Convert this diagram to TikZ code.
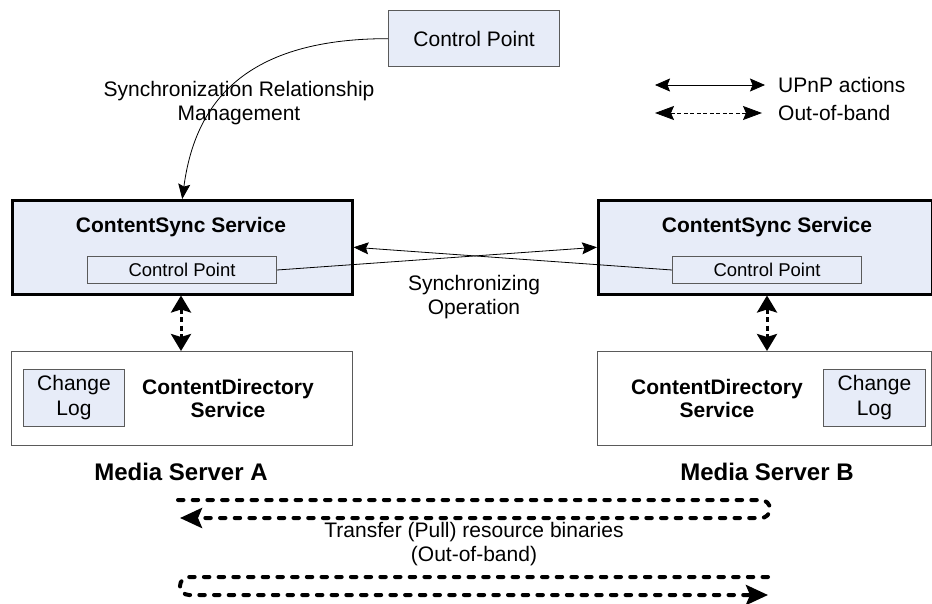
\documentclass[tikz,border=0pt]{standalone}
\usepackage{fontspec}
\setmainfont{Liberation Sans}
\usetikzlibrary{arrows.meta}
\definecolor{boxblue}{HTML}{E7ECF8}
\definecolor{edgegray}{HTML}{5A5A5A}
\begin{document}
\begin{tikzpicture}[x=1pt,y=-1pt,
  txt/.style={font=\fontsize{21}{24}\selectfont, align=center, inner sep=0pt},
  btxt/.style={font=\fontsize{21}{23}\selectfont\bfseries, align=center, inner sep=0pt},
  mstxt/.style={font=\fontsize{24}{28}\selectfont\bfseries, inner sep=0pt},
  cpbox/.style={draw=edgegray, line width=1pt, fill=boxblue, anchor=north west, inner sep=0pt,
     font=\fontsize{18.5}{21}\selectfont},
  topbox/.style={draw=edgegray, line width=1.3pt, fill=boxblue, anchor=north west, inner sep=0pt,
     font=\fontsize{21}{24}\selectfont},
  csbox/.style={draw=black, line width=2.5pt, fill=boxblue, anchor=north west, inner sep=0pt},
  cdbox/.style={draw=edgegray, line width=1pt, fill=white, anchor=north west, inner sep=0pt},
  logbox/.style={draw=edgegray, line width=1pt, fill=boxblue, anchor=north west, inner sep=0pt,
     align=center, font=\fontsize{21}{25}\selectfont},
  thinarrow/.style={draw=black, line width=0.8pt, -{Stealth[length=15pt,width=12pt,inset=2.5pt]}},
  legendarrow/.style={draw=black, line width=0.8pt, {Stealth[length=15pt,width=13pt,inset=2.5pt]}-{Stealth[length=15pt,width=13pt,inset=2.5pt]}},
  legenddash/.style={draw=black, line width=0.8pt, dash pattern=on 4pt off 2.5pt, {Stealth[length=19pt,width=14pt,inset=3pt]}-{Stealth[length=19pt,width=14pt,inset=3pt]}},
  vdash/.style={draw=black, line width=3pt, dash pattern=on 5pt off 3.5pt, {Stealth[length=17pt,width=20pt,inset=3pt]}-{Stealth[length=17pt,width=20pt,inset=3pt]}},
  bigdash/.style={draw=black, line width=4pt, line cap=round, dash pattern=on 5.5pt off 9.2pt, rounded corners=9pt}
]
\useasboundingbox (0,0) rectangle (932,603);

% Top control point
\node[topbox, minimum width=171pt, minimum height=56pt] (cpTop) at (388,10) {Control Point};

% ContentSync boxes
\node[csbox, minimum width=340pt, minimum height=94pt] (csA) at (11,199) {};
\node[csbox, minimum width=334pt, minimum height=94pt] (csB) at (597,199) {};
\node[btxt] (titleA) at (181,227) {ContentSync Service};
\node[btxt] (titleB) at (767,227) {ContentSync Service};
\node[cpbox, minimum width=189pt, minimum height=27pt] (cpA) at (87,256) {Control Point};
\node[cpbox, minimum width=189pt, minimum height=27pt] (cpB) at (672,256) {Control Point};

% ContentDirectory boxes
\node[cdbox, minimum width=341pt, minimum height=94pt] (cdA) at (11,351) {};
\node[cdbox, minimum width=334pt, minimum height=94pt] (cdB) at (597,351) {};
\node[logbox, minimum width=101pt, minimum height=57pt] (clA) at (23,369) {Change\\Log};
\node[logbox, minimum width=102pt, minimum height=57pt] (clB) at (823,369) {Change\\Log};
\node[btxt] (cdtA) at (228,398) {ContentDirectory\\Service};
\node[btxt] (cdtB) at (717,398) {ContentDirectory\\Service};

% Labels
\node[txt] (srm) at (239,103) {Synchronization Relationship\\Management};
\node[txt] (syncop) at (474,297) {Synchronizing\\Operation};
\node[mstxt] (msA) at (181,472) {Media Server A};
\node[mstxt] (msB) at (767,472) {Media Server B};
\node[txt] (transfer) at (474,544) {Transfer (Pull) resource binaries\\(Out-of-band)};

% Legend
\coordinate (l1a) at (655,85);
\coordinate (l1b) at (765,85);
\coordinate (l2a) at (655,113);
\coordinate (l2b) at (762,113);
\node[txt, anchor=west] (lupnp) at (778,85) {UPnP actions};
\node[txt, anchor=west] (loob) at (778,113) {Out-of-band};
\draw[legendarrow] (l1a) -- (l1b);
\draw[legenddash] (l2a) -- (l2b);

% Connectors
\draw[thinarrow] (cpTop.west) .. controls +(-150,0) and +(12,-90) .. (csA.north);
\draw[thinarrow] (cpA.east) -- (csB.west);
\draw[thinarrow] (cpB.west) -- (csA.east);
\draw[vdash] (titleA |- csA.south) -- (titleA |- cdA.north);
\draw[vdash] (titleB |- csB.south) -- (titleB |- cdB.north);

% Bottom transfer arrows
\coordinate (t1s) at (178,500);
\coordinate (t1r) at (770,500);
\coordinate (t1d) at (770,518);
\coordinate (t1e) at (180,518);
\coordinate (t2s) at (768,577);
\coordinate (t2l) at (180,577);
\coordinate (t2d) at (180,595);
\coordinate (t2e) at (768,595);
\draw[bigdash, -{Stealth[length=22pt,width=20pt,inset=4pt]}] (t1s) -- (t1r) -- (t1d) -- (t1e);
\draw[bigdash, -{Stealth[length=22pt,width=20pt,inset=4pt]}] (t2s) -- (t2l) -- (t2d) -- (t2e);
\end{tikzpicture}
\end{document}
